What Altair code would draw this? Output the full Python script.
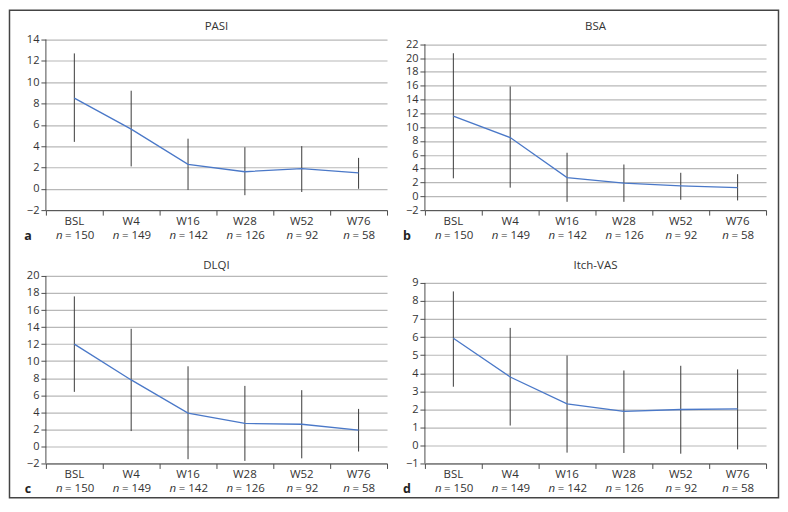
import altair as alt
import pandas as pd

FONT = "Open Sans"
TXT = "#333333"
AX = "#4d4d4d"
GRID = "#b8b8b8"
ERR = "#3a3a3a"
BLUE = "#4a78c8"

categories = ["BSL", "W4", "W16", "W28", "W52", "W76"]
n_values = [150, 149, 142, 126, 92, 58]

pasi_mean = [8.5, 5.6, 2.3, 1.6, 1.9, 1.5]
pasi_lo = [4.4, 2.1, -0.1, -0.6, -0.3, 0.0]
pasi_hi = [12.7, 9.2, 4.7, 3.9, 4.0, 2.9]

bsa_mean = [11.6, 8.5, 2.7, 1.9, 1.5, 1.25]
bsa_lo = [2.6, 1.25, -0.8, -0.8, -0.5, -0.6]
bsa_hi = [20.7, 15.9, 6.3, 4.6, 3.4, 3.2]

dlqi_mean = [12.0, 7.8, 3.9, 2.7, 2.6, 1.9]
dlqi_lo = [6.4, 1.8, -1.5, -1.7, -1.4, -0.6]
dlqi_hi = [17.6, 13.8, 9.4, 7.1, 6.6, 4.4]

itch_mean = [5.94, 3.79, 2.30, 1.89, 1.99, 2.02]
itch_lo = [3.25, 1.10, -0.40, -0.42, -0.46, -0.22]
itch_hi = [8.53, 6.51, 4.98, 4.15, 4.41, 4.21]

W = 342
PX_PER_UNIT = W / 6.0


def panel(title, letter, mean, lo, hi, ymin, ymax, step, dom_top, height,
          title_dy, frame=False):
    df = pd.DataFrame({"cat": categories, "idx": list(range(6)), "n": n_values,
                       "mean": mean, "lo": lo, "hi": hi})
    base = alt.Chart(df)
    xs = alt.Scale(domain=[-0.5, 5.5], nice=False, zero=False)
    ys = alt.Scale(domain=[ymin, dom_top], nice=False, zero=False)
    yvals = list(range(ymin, ymax + 1, step))
    x_axis = alt.Axis(values=[i - 0.5 for i in range(7)], labels=False, title=None,
                      grid=False, tickSize=5, tickColor=AX, domainColor=AX,
                      tickWidth=1, domainWidth=1)
    y_axis = alt.Axis(values=yvals, title=None, grid=True, gridColor=GRID,
                      gridWidth=1.2, tickSize=5, tickColor=AX, domain=False,
                      labelPadding=2, labelFontSize=11, labelColor=TXT, labelFont=FONT,
                      labelOverlap=False, labelFlush=False)

    err = base.mark_rule(color=ERR, strokeWidth=1).encode(
        x=alt.X("idx:Q", scale=xs, axis=x_axis),
        y=alt.Y("lo:Q", scale=ys, axis=y_axis),
        y2="hi:Q",
    )
    line = base.mark_line(color=BLUE, strokeWidth=1.3).encode(
        x=alt.X("idx:Q", scale=xs, axis=x_axis),
        y=alt.Y("mean:Q", scale=ys, axis=y_axis),
    )
    one = alt.Chart(alt.Data(values=[{"a": ymin, "b": ymax}]))
    ydom = one.mark_rule(color=AX, strokeWidth=1).encode(
        x=alt.value(0),
        y=alt.Y("a:Q", scale=ys, axis=y_axis),
        y2="b:Q",
    )
    cat_txt = base.mark_text(fontSize=11.5, color=TXT, font=FONT, baseline="middle").encode(
        x=alt.X("idx:Q", scale=xs), y=alt.value(height + 12), text="cat:N"
    )
    nexpr = f"datum.idx - (18.1 + 6.3 * length(toString(datum.n))) / 2 / {PX_PER_UNIT}"
    n_txt = base.transform_calculate(xn=nexpr).mark_text(
        fontSize=11.5, color=TXT, font=FONT, baseline="middle", align="left",
        fontStyle="italic").encode(
        x=alt.X("xn:Q", scale=xs), y=alt.value(height + 26), text=alt.value("n")
    )
    r_txt = base.transform_calculate(
        xr=f"{nexpr} + 9.2 / {PX_PER_UNIT}", rest="'= ' + datum.n"
    ).mark_text(fontSize=11.5, color=TXT, font=FONT, baseline="middle", align="left").encode(
        x=alt.X("xr:Q", scale=xs), y=alt.value(height + 26), text="rest:N"
    )
    letter_txt = one.mark_text(fontSize=12.5, fontWeight="bold", color="#222222", font=FONT,
                               baseline="middle", align="center").encode(
        x=alt.value(-18), y=alt.value(height + 26), text=alt.value(letter)
    )
    title_txt = one.mark_text(fontSize=11.5, color=TXT, font=FONT, baseline="middle",
                              align="center").encode(
        x=alt.value(W / 2), y=alt.value(title_dy), text=alt.value(title)
    )
    layers = [err, ydom, line, cat_txt, n_txt, r_txt, letter_txt, title_txt]
    if frame:
        fr = one.mark_rect(fill="transparent", stroke="#444444", strokeWidth=1.5).encode(
            x=alt.value(-36.5), x2=alt.value(734.5), y=alt.value(-29.5), y2=alt.value(459.5)
        )
        layers.append(fr)
    return alt.layer(*layers).properties(width=W, height=height)


pa = panel("PASI", "a", pasi_mean, pasi_lo, pasi_hi, -2, 14, 2, 14, 171, -13, frame=True)
pb = panel("BSA", "b", bsa_mean, bsa_lo, bsa_hi, -2, 22, 2, 22.68, 171, -13)
pc = panel("DLQI", "c", dlqi_mean, dlqi_lo, dlqi_hi, -2, 20, 2, 20, 188, -10)
pd_ = panel("Itch-VAS", "d", itch_mean, itch_lo, itch_hi, -1, 9, 1, 9.387, 188, -10)

chart = alt.concat(
    pa, pb, pc, pd_, columns=2, bounds="flush", align="each",
    spacing={"row": 66, "column": 38},
).properties(padding=0, background="white").configure_view(
    stroke="transparent", strokeWidth=0
)

chart.save("out.html", embed_options={"renderer": "svg", "actions": False})
